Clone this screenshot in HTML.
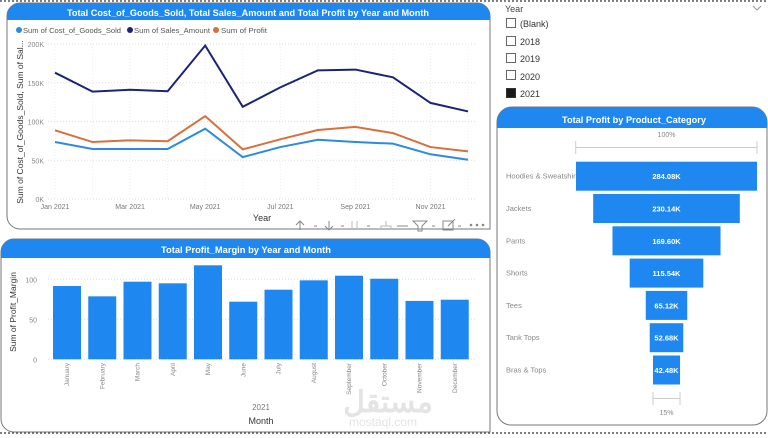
<!DOCTYPE html>
<html><head><meta charset="utf-8">
<style>
body{margin:0;width:768px;height:438px;background:#fff;overflow:hidden;font-family:"Liberation Sans",sans-serif;position:relative}
svg{position:absolute;left:0;top:0}
</style></head>
<body>
<svg width="768" height="438" id="svg">
  <line x1="0" y1="1" x2="768" y2="1" stroke="#555" stroke-width="1.5" stroke-dasharray="2,2"/>
  <line x1="0" y1="433" x2="768" y2="433" stroke="#555" stroke-width="1.5" stroke-dasharray="2,2"/>

  <g>
    <path d="M7,16 a13,13 0 0 1 13,-13 H477 a13,13 0 0 1 13,13 V229 H20 a13,13 0 0 1 -13,-13 Z" fill="#fff" stroke="#777" stroke-width="1"/>
    <path d="M7,16 a13,13 0 0 1 13,-13 H477 a13,13 0 0 1 13,13 V20 H7 Z" fill="#1e88f0"/>
    <text x="248" y="16" fill="#fff" font-size="9.5" font-weight="bold" text-anchor="middle" textLength="362" lengthAdjust="spacingAndGlyphs">Total Cost_of_Goods_Sold, Total Sales_Amount and Total Profit by Year and Month</text>
  </g>
  <g id="legend" font-size="7.5" fill="#555">
    <circle cx="19" cy="30" r="3" fill="#2b8be0"/><text x="23" y="33" textLength="98" lengthAdjust="spacingAndGlyphs">Sum of Cost_of_Goods_Sold</text>
    <circle cx="130" cy="30" r="3" fill="#1c2378"/><text x="134" y="33" textLength="76" lengthAdjust="spacingAndGlyphs">Sum of Sales_Amount</text>
    <circle cx="216" cy="30" r="3" fill="#d6703c"/><text x="221" y="33" textLength="46" lengthAdjust="spacingAndGlyphs">Sum of Profit</text>
  </g>
  <g id="lineChart"></g>
  <text x="0" y="0" transform="translate(23,122) rotate(-90)" font-size="8.5" fill="#333" text-anchor="middle">Sum of Cost_of_Goods_Sold, Sum of Sal...</text>
  <text x="262" y="221" font-size="9" fill="#333" text-anchor="middle">Year</text>
  <g fill="none" stroke="#888" stroke-width="1">
    <path d="M300,221 V230 M296,225 L300,221 L304,225"/>
    <path d="M329,221 V230 M325,226 L329,230 L333,226"/>
    <path d="M352,221 V230 M357,221 V230" stroke="#bbb"/>
    <path d="M386,221 V226 M381,230 V226 H391 V230" stroke="#bbb"/>
    <path d="M397,226 H408"/>
    <path d="M413,221 H427 L422,226 V231 H418 V226 Z"/>
    <rect x="443" y="221" width="10" height="9"/>
    <path d="M448,226 L455,219"/>
    <path d="M314,226 h3 M341,226 h3 M367,226 h3 M432,226 h3 M458,226 h3"/>
    <circle cx="471" cy="225" r="0.8" fill="#666"/><circle cx="477" cy="225" r="0.8" fill="#666"/><circle cx="483" cy="225" r="0.8" fill="#666"/>
  </g>

  <g>
    <path d="M1,252 a13,13 0 0 1 13,-13 H477 a13,13 0 0 1 13,13 V432 H14 a13,13 0 0 1 -13,-13 Z" fill="#fff" stroke="#777" stroke-width="1"/>
    <path d="M1,252 a13,13 0 0 1 13,-13 H477 a13,13 0 0 1 13,13 V258 H1 Z" fill="#1e88f0"/>
    <text x="246" y="253" fill="#fff" font-size="9.5" font-weight="bold" text-anchor="middle" textLength="170" lengthAdjust="spacingAndGlyphs">Total Profit_Margin by Year and Month</text>
  </g>
  <g id="barChart"></g>
  <text x="0" y="0" transform="translate(16,312) rotate(-90)" font-size="8.5" fill="#333" text-anchor="middle">Sum of Profit_Margin</text>
  <text x="261" y="410" font-size="8" fill="#777" text-anchor="middle">2021</text>
  <text x="261" y="424" font-size="9" fill="#333" text-anchor="middle">Month</text>
  <text x="388" y="412" font-size="30" font-weight="bold" fill="#e4e4e4" text-anchor="middle">مستقل</text>
  <text x="383" y="426" font-size="12" fill="#e4e4e4" text-anchor="middle">mostaql.com</text>

  <g font-size="9" fill="#333">
    <text x="505" y="12" fill="#444">Year</text>
    <path d="M753,6 l4,4 l4,-4" fill="none" stroke="#999"/>
    <g><rect x="506.5" y="18.5" width="9" height="9" fill="#fff" stroke="#666"/><text x="520" y="27">(Blank)</text></g>
    <g><rect x="506.5" y="36.5" width="9" height="9" fill="#fff" stroke="#666"/><text x="520" y="45">2018</text></g>
    <g><rect x="506.5" y="53.5" width="9" height="9" fill="#fff" stroke="#666"/><text x="520" y="62">2019</text></g>
    <g><rect x="506.5" y="70.5" width="9" height="9" fill="#fff" stroke="#666"/><text x="520" y="80">2020</text></g>
    <g><rect x="506.5" y="88.5" width="9" height="9" fill="#1a1a1a" stroke="#333"/><text x="520" y="97">2021</text></g>
  </g>

  <g>
    <path d="M497,122 a15,15 0 0 1 15,-15 H752 a15,15 0 0 1 15,15 V411 a14,14 0 0 1 -14,14 H511 a14,14 0 0 1 -14,-14 Z" fill="#fff" stroke="#777" stroke-width="1"/>
    <path d="M497,122 a15,15 0 0 1 15,-15 H752 a15,15 0 0 1 15,15 V128 H497 Z" fill="#1e88f0"/>
    <text x="634" y="123" fill="#fff" font-size="9.5" font-weight="bold" text-anchor="middle" textLength="144" lengthAdjust="spacingAndGlyphs">Total Profit by Product_Category</text>
  </g>
  <g id="funnel"></g>
</svg>
<script>
const months=["Jan","Feb","Mar","Apr","May","Jun","Jul","Aug","Sep","Oct","Nov","Dec"];
const cogs=[73.5,64.5,64.5,64.5,90.7,54,67,76.5,73.5,71.4,57.7,50.7];
const sales=[163,138.5,141,139,198,119,144,166,167,157,124,113];
const profit=[88.6,73.5,75.7,74.5,107,64,77,89,93,85,67,61.5];
const lineYTicks=[0,50,100,150,200];
const lineXTicks=["Jan 2021","Mar 2021","May 2021","Jul 2021","Sep 2021","Nov 2021"];

const monthNames=["January","February","March","April","May","June","July","August","September","October","November","December"];
const margin=[91.6,78.7,97,95,117.5,72,87,98.7,104.5,100.7,73,74.5];
const barYTicks=[0,50,100];

const categories=["Hoodies & Sweatshirts","Jackets","Pants","Shorts","Tees","Tank Tops","Bras & Tops"];
const catProfit=[284.08,230.14,169.60,115.54,65.12,52.68,42.48];

const NS="http://www.w3.org/2000/svg";
function mk(tag,attrs,parent,text){const e=document.createElementNS(NS,tag);for(const k in attrs)e.setAttribute(k,attrs[k]);if(text!==undefined)e.textContent=text;parent.appendChild(e);return e;}

const lc=document.getElementById('lineChart');
const lx=i=>55+i*37.55, ly=v=>199-v*155/200;
lineYTicks.forEach(t=>{
  const g=mk('line',{x1:48,x2:477,y1:ly(t),y2:ly(t),stroke:'#ddd','stroke-dasharray':'1,2'},lc);
  
  
  const tx=mk('text',{x:44,y:ly(t)+3,'font-size':7,fill:'#888','text-anchor':'end'},lc,t+'K');
  
  
});
months.forEach((m,i)=>{
  const g=mk('line',{x1:lx(i),x2:lx(i),y1:44,y2:199,stroke:'#eee','stroke-dasharray':'1,2'},lc);
  
  
});
lineXTicks.forEach((t,i)=>{
  const tx=mk('text',{x:lx(i*2),y:209,'font-size':7,fill:'#777','text-anchor':'middle'},lc,t);
  
  
});
[[sales,'#1c2378','sales-line'],[profit,'#d6703c','profit-line'],[cogs,'#2b8be0','cogs-line']].forEach(([arr,c,n])=>{
  const p=mk('polyline',{points:arr.map((v,i)=>lx(i)+','+ly(v)).join(' '),fill:'none',stroke:c,'stroke-width':2},lc);
  
  
});

const bc=document.getElementById('barChart');
const by=v=>359.3-v*0.8, bx=i=>53+i*35.25;
barYTicks.forEach(t=>{
  const g=mk('line',{x1:48,x2:477,y1:by(t),y2:by(t),stroke:'#ddd','stroke-dasharray':'1,2'},bc);
  
  
  const tx=mk('text',{x:37,y:by(t)+3,'font-size':7,fill:'#888','text-anchor':'end'},bc,t);
  
  
});
margin.forEach((v,i)=>{
  const r=mk('rect',{x:bx(i),y:by(v),width:28,height:by(0)-by(v),fill:'#1e88f0'},bc);
  
  
  const cx=bx(i)+14;
  const tx=mk('text',{x:0,y:0,transform:`translate(${cx+2},363) rotate(-90)`,'font-size':6.5,fill:'#888','text-anchor':'end'},bc,monthNames[i]);
  
  
});

const fn=document.getElementById('funnel');
const maxV=catProfit[0], fw=v=>181*v/maxV, fcx=666.5;
const fy=i=>161.7+i*32.3;
mk('path',{d:'M575.7,141 V154 M757,141 V154 M575.7,147.5 H757',stroke:'#ccc',fill:'none'},fn);
mk('text',{x:fcx,y:137,'font-size':7,fill:'#888','text-anchor':'middle'},fn,'100%');
const lw=fw(catProfit[catProfit.length-1]);
mk('path',{d:`M${fcx-lw/2},392 V405 M${fcx+lw/2},392 V405 M${fcx-lw/2},398.5 H${fcx+lw/2}`,stroke:'#ccc',fill:'none'},fn);
mk('text',{x:fcx,y:415,'font-size':7,fill:'#888','text-anchor':'middle'},fn,'15%');
catProfit.forEach((v,i)=>{
  const w=fw(v);
  const ct=mk('text',{x:506,y:fy(i)+17,'font-size':7.5,fill:'#888'},fn,categories[i]);
  
  
  const r=mk('rect',{x:fcx-w/2,y:fy(i),width:w,height:29,fill:'#1e88f0'},fn);
  
  
  const vt=mk('text',{x:fcx,y:fy(i)+17.5,'font-size':7.5,'font-weight':'bold',fill:'#fff','text-anchor':'middle'},fn,v.toFixed(2)+'K');
  
  
});
</script>
</body></html>
